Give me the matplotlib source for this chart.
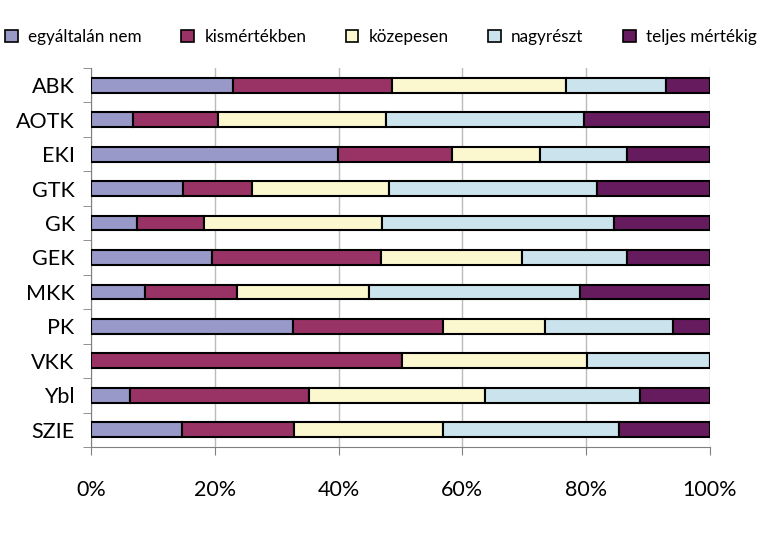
import matplotlib.pyplot as plt
import numpy as np
from matplotlib.patches import Patch
from matplotlib.ticker import FixedLocator, PercentFormatter

# adatok (százalék)
categories = ['ABK', 'AOTK', 'EKI', 'GTK', 'GK', 'GEK', 'MKK', 'PK', 'VKK', 'Ybl', 'SZIE']
series_names = ['egyáltalán nem', 'kismértékben', 'közepesen', 'nagyrészt', 'teljes mértékig']
egyaltalan_nem = [22.9, 6.7, 39.9, 14.9, 7.4, 19.5, 8.7, 32.6, 0.0, 6.2, 14.7]
kismertekben = [25.8, 13.8, 18.5, 11.1, 10.8, 27.4, 14.8, 24.3, 50.2, 29.0, 18.0]
kozepesen = [28.1, 27.1, 14.2, 22.2, 28.8, 22.7, 21.4, 16.5, 29.9, 28.4, 24.2]
nagyreszt = [16.2, 32.0, 14.0, 33.6, 37.6, 17.0, 34.2, 20.7, 19.9, 25.2, 28.4]
teljes = [7.0, 20.4, 13.4, 18.2, 15.4, 13.4, 20.9, 5.9, 0.0, 11.2, 14.7]
colors = ['#9898C9', '#993366', '#FBF8CF', '#CAE3EC', '#661B5F']

plt.rcParams['font.family'] = ['Lato', 'DejaVu Sans']

fig = plt.figure(figsize=(7.62, 5.38), dpi=100)
ax = fig.add_axes([91.3 / 762, 1 - 447 / 538, (709.7 - 91.3) / 762, (447 - 68) / 538])

data = [egyaltalan_nem, kismertekben, kozepesen, nagyreszt, teljes]
y = np.arange(len(categories))
left = np.zeros(len(categories))
for vals, c, name in zip(data, colors, series_names):
    vals = np.array(vals)
    ax.barh(y, vals, left=left, height=0.43, color=c, edgecolor='black',
            linewidth=1.5, zorder=3, label=name)
    left += vals

ax.set_xlim(0, 100)
ax.set_ylim(len(categories) - 0.5, -0.5)
ax.set_yticks(y)
ax.set_yticklabels(categories, fontsize=15.5)
ax.yaxis.set_minor_locator(FixedLocator(np.arange(len(categories) + 1) - 0.5))
ax.tick_params(axis='y', which='major', length=0, pad=12)
ax.tick_params(axis='y', which='minor', length=6, color='#808080')
ax.set_xticks([0, 20, 40, 60, 80, 100])
ax.xaxis.set_major_formatter(PercentFormatter(decimals=0))
ax.tick_params(axis='x', length=6, color='#808080', labelsize=15.5, pad=18)
ax.grid(axis='x', color='#BBBBBB', linewidth=1, zorder=0)

for s in ['top', 'right']:
    ax.spines[s].set_visible(False)
for s in ['left', 'bottom']:
    ax.spines[s].set_color('#808080')

handles = [Patch(facecolor=c, edgecolor='black', linewidth=1.2) for c in colors]
fig.legend(handles, series_names, loc='center', bbox_to_anchor=(0.5, 1 - 37 / 538),
           ncol=5, frameon=False, fontsize=12.3, handlelength=0.75, handleheight=0.75,
           handletextpad=0.6, columnspacing=2.3)

plt.savefig('out.png', dpi=100)
